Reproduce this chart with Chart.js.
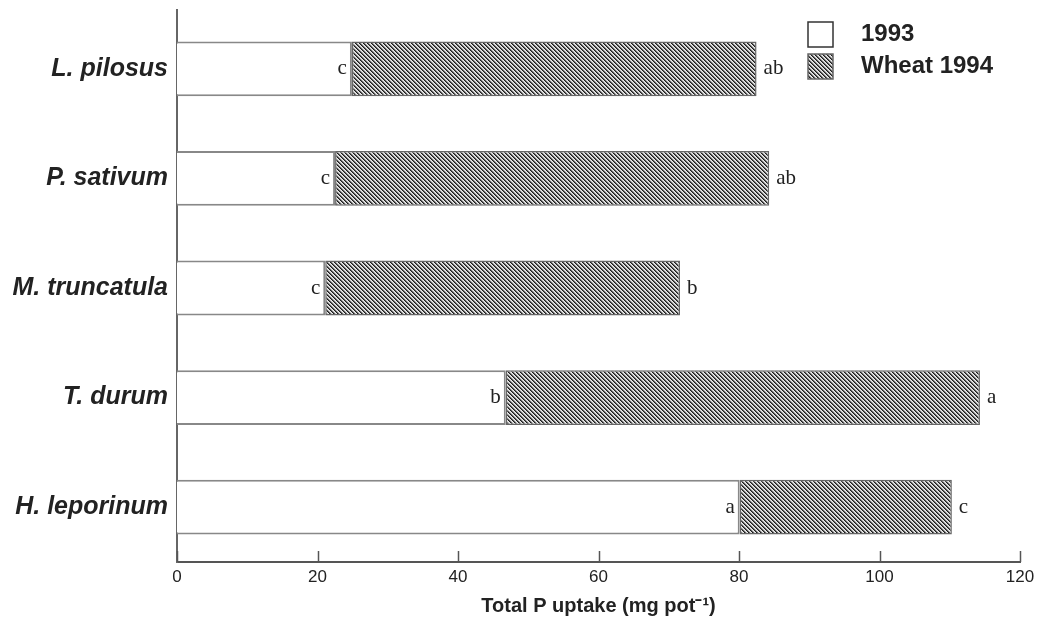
<!DOCTYPE html>
<html><head><meta charset="utf-8">
<script src="https://cdn.jsdelivr.net/npm/chart.js@4/dist/chart.umd.min.js"></script>
<style>html,body{margin:0;padding:0;background:#fff;}#wrap{width:1054px;height:623px;}</style>
</head><body><div id="wrap"><canvas id="c" width="1054" height="623"></canvas></div>
<script>
const categories = ['L. pilosus', 'P. sativum', 'M. truncatula', 'T. durum', 'H. leporinum'];
const uptake1993 = [24.9, 22.5, 21.1, 46.8, 80.1];
const wheat1994 = [57.6, 61.8, 50.5, 67.5, 30.2];
const letters1993 = ['c', 'c', 'c', 'b', 'a'];
const lettersTotal = ['ab', 'ab', 'b', 'a', 'c'];
const seriesNames = ['1993', 'Wheat 1994'];
const xTicks = [0, 20, 40, 60, 80, 100, 120];
const xTitle = 'Total P uptake (mg pot\u207B\u00B9)';

function makeHatch() {
  const t = document.createElement('canvas');
  t.width = 4; t.height = 4;
  const g = t.getContext('2d');
  const img = g.createImageData(4, 4);
  const shades = [30, 95, 205, 235];
  for (let y = 0; y < 4; y++) for (let x = 0; x < 4; x++) {
    const d = ((x - y) % 4 + 4) % 4;
    const v = shades[d];
    const i = (y * 4 + x) * 4;
    img.data[i] = v; img.data[i + 1] = v; img.data[i + 2] = v; img.data[i + 3] = 255;
  }
  g.putImageData(img, 0, 0);
  return document.getElementById('c').getContext('2d').createPattern(t, 'repeat');
}
const hatch = makeHatch();
const sans = "'Liberation Sans', Arial, Helvetica, sans-serif";
const serif = "'Liberation Serif', 'Times New Roman', serif";

const extras = {
  id: 'extras',
  afterDatasetsDraw(chart) {
    const ctx = chart.ctx;
    const xs = chart.scales.x;
    const area = chart.chartArea;
    ctx.save();
    // y axis line extends slightly above the plot area
    ctx.strokeStyle = '#666';
    ctx.lineWidth = 2;
    ctx.beginPath(); ctx.moveTo(area.left, area.top); ctx.lineTo(area.left, area.top - 5); ctx.stroke();
    ctx.strokeStyle = '#555';
    ctx.lineWidth = 1.5;
    xTicks.forEach(v => {
      const px = Math.round(xs.getPixelForValue(v)) + 0.5;
      ctx.beginPath(); ctx.moveTo(px, area.bottom); ctx.lineTo(px, area.bottom - 11); ctx.stroke();
    });
    ctx.fillStyle = '#222';
    ctx.font = '21px ' + serif;
    ctx.textBaseline = 'middle';
    const m0 = chart.getDatasetMeta(0), m1 = chart.getDatasetMeta(1);
    m0.data.forEach((el, i) => {
      ctx.textAlign = 'right';
      ctx.fillText(letters1993[i], el.x - 5, el.y);
    });
    m1.data.forEach((el, i) => {
      ctx.textAlign = 'left';
      ctx.fillText(lettersTotal[i], el.x + 7, el.y);
    });
    // legend
    const boxes = [{fill: '#fff'}, {fill: hatch}];
    ctx.font = 'bold 24px ' + sans;
    ctx.textAlign = 'left';
    seriesNames.forEach((name, i) => {
      const y = 22 + i * 32;
      ctx.fillStyle = boxes[i].fill;
      ctx.fillRect(808, y, 25, 25);
      ctx.strokeStyle = i === 0 ? '#333' : '#666';
      ctx.lineWidth = 1.5;
      ctx.strokeRect(808, y, 25, 25);
      ctx.fillStyle = '#222';
      ctx.fillText(name, 861, y + 12);
    });
    ctx.restore();
  }
};

new Chart(document.getElementById('c'), {
  type: 'bar',
  data: {
    labels: categories,
    datasets: [
      {label: seriesNames[0], data: uptake1993, backgroundColor: '#ffffff', borderColor: '#888', borderWidth: 2, borderSkipped: 'start', stack: 's'},
      {label: seriesNames[1], data: wheat1994, backgroundColor: hatch, borderColor: '#666', borderWidth: 1.5, borderSkipped: false, stack: 's'}
    ]
  },
  options: {
    indexAxis: 'y',
    responsive: false,
    animation: false,
    devicePixelRatio: 1,
    layout: {padding: {top: 14, right: 34, bottom: 0, left: 0}},
    datasets: {bar: {categoryPercentage: 1, barPercentage: 0.5}},
    plugins: {legend: {display: false}, tooltip: {enabled: false}},
    scales: {
      x: {
        stacked: true, min: 0, max: 120,
        ticks: {stepSize: 20, color: '#222', font: {family: sans, size: 17}, padding: 5, maxRotation: 0},
        grid: {display: false, drawTicks: false},
        border: {display: true, color: '#555', width: 2},
        title: {display: true, text: xTitle, color: '#222', font: {family: sans, size: 20, weight: 'bold'}, padding: {top: 4, bottom: 5}},
        afterFit(s) { s.height = 61; s.paddingLeft = 0; s.paddingRight = 0; }
      },
      y: {
        stacked: true,
        grid: {display: false, drawTicks: false},
        border: {display: true, color: '#666', width: 2},
        ticks: {color: '#222', font: {family: sans, size: 25, weight: 'bold', style: 'italic'}, padding: 9},
        afterFit(s) { s.width = 177; s.paddingTop = 0; s.paddingBottom = 0; }
      }
    }
  },
  plugins: [extras]
});
</script></body></html>
